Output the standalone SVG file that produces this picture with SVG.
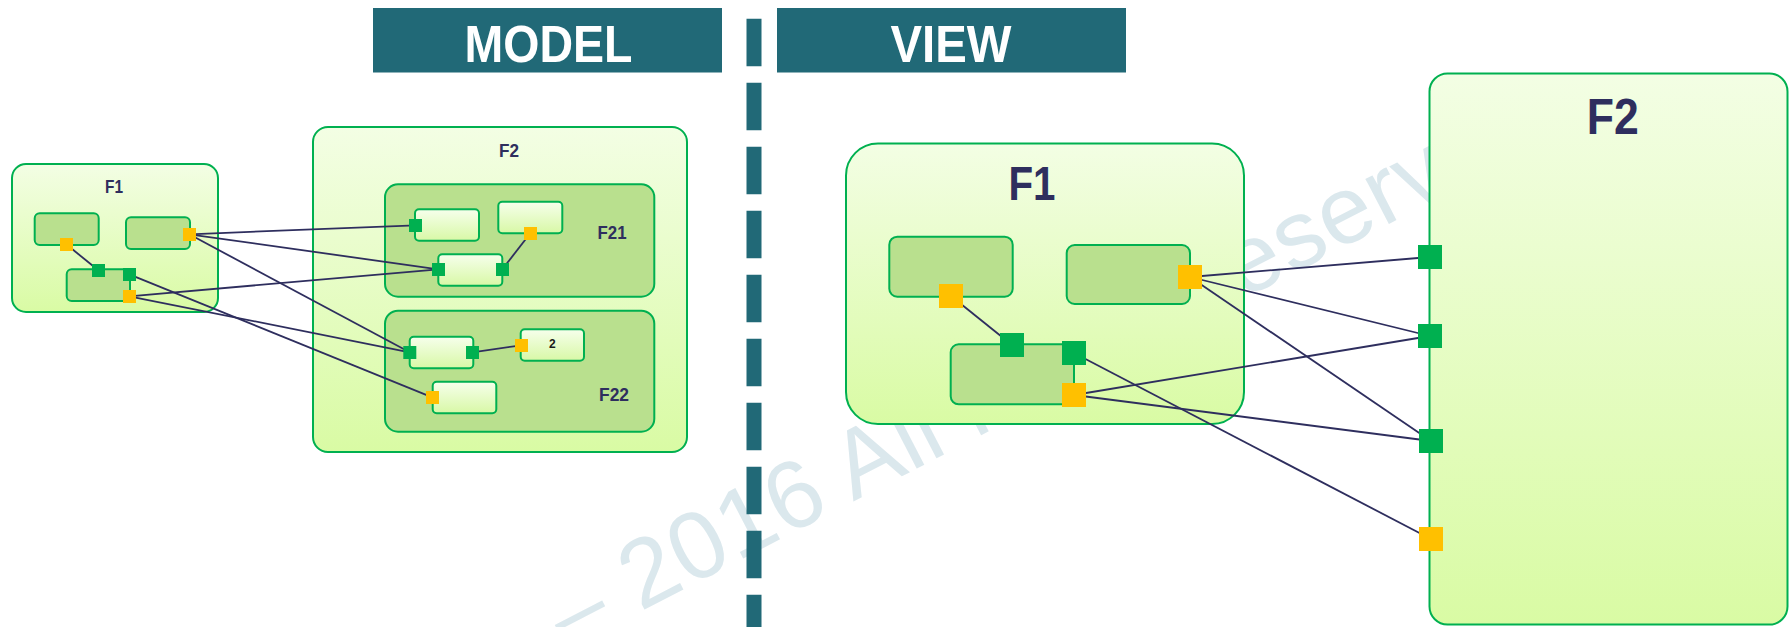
<svg xmlns="http://www.w3.org/2000/svg" width="1789" height="627" viewBox="0 0 1789 627">
<defs>
<linearGradient id="gOuter" x1="0" y1="0" x2="0" y2="1">
<stop offset="0" stop-color="#f3fee4"/>
<stop offset="1" stop-color="#d9fba4"/>
</linearGradient>
<linearGradient id="gSmall" x1="0" y1="0" x2="0" y2="1">
<stop offset="0" stop-color="#f6ffec"/>
<stop offset="1" stop-color="#d8f8a6"/>
</linearGradient>
<style>
.hdr{fill:#216977}
.hdrt{fill:#ffffff;font-family:"Liberation Sans",Arial,sans-serif;font-weight:bold;font-size:52px;text-anchor:middle}
.outer{fill:url(#gOuter);stroke:#00b050;stroke-width:2}
.mid{fill:#b9e08e;stroke:#00b050;stroke-width:2}
.small{fill:url(#gSmall);stroke:#00b050;stroke-width:2}
.ttl{fill:#2e2e5e;font-family:"Liberation Sans",Arial,sans-serif;font-weight:bold;text-anchor:middle}
.pg{fill:#00b050}
.py{fill:#ffc000}
.wire{stroke:#2e2e5e;stroke-width:1.8;fill:none}
.wm{fill:#dbe8ed;font-family:"Liberation Sans",Arial,sans-serif;font-size:96px;letter-spacing:1px}
</style>
</defs>
<rect width="1789" height="627" fill="#ffffff"/>
<text class="wm" transform="translate(567.4,649.6) rotate(-27.4)">– 2016 All rights reserved</text>
<g id="divider">
<line x1="754" y1="18.7" x2="754" y2="650" stroke="#216977" stroke-width="15" stroke-dasharray="47.5 16.5"/>
</g>
<g id="hdr-model">
<rect class="hdr" x="373" y="8" width="349" height="64.5"/>
<text class="hdrt" x="548.5" y="61.5" textLength="168" lengthAdjust="spacingAndGlyphs">MODEL</text>
</g>
<g id="hdr-view">
<rect class="hdr" x="777" y="8" width="349" height="64.5"/>
<text class="hdrt" x="951" y="61.5" textLength="121" lengthAdjust="spacingAndGlyphs">VIEW</text>
</g>
<g id="m-F1">
<rect class="outer" x="12" y="164" width="206" height="148" rx="14"/>
<text class="ttl" x="114" y="193" font-size="19" textLength="18" lengthAdjust="spacingAndGlyphs">F1</text>
<rect class="mid" x="34.7" y="213.3" width="64" height="31.7" rx="5"/>
<rect class="mid" x="126" y="217.3" width="64" height="31.7" rx="5"/>
<rect class="mid" x="66.7" y="269.3" width="63.3" height="31.7" rx="5"/>
</g>
<g id="m-F2">
<rect class="outer" x="313" y="127" width="374" height="325" rx="15"/>
<text class="ttl" x="509" y="157" font-size="18" textLength="20" lengthAdjust="spacingAndGlyphs">F2</text>
</g>
<g id="m-F21">
<rect class="mid" x="385" y="184.3" width="269.3" height="112.4" rx="13"/>
<text class="ttl" x="612" y="239.3" font-size="19" textLength="29" lengthAdjust="spacingAndGlyphs">F21</text>
<rect class="small" x="415" y="209.3" width="64" height="31.4" rx="4"/>
<rect class="small" x="498.3" y="201.7" width="64" height="31.6" rx="4"/>
<rect class="small" x="438.3" y="254.3" width="64" height="31.4" rx="4"/>
</g>
<g id="m-F22">
<rect class="mid" x="385" y="310.7" width="269.3" height="121" rx="13"/>
<text class="ttl" x="614" y="400.7" font-size="19" textLength="30" lengthAdjust="spacingAndGlyphs">F22</text>
<rect class="small" x="409.7" y="336.7" width="63.6" height="31.6" rx="4"/>
<rect class="small" x="520.7" y="329.3" width="63.3" height="31.4" rx="4"/>
<text x="552.3" y="347.8" font-family="Liberation Sans,Arial,sans-serif" font-weight="bold" font-size="12" text-anchor="middle" fill="#1a1a1a">2</text>
<rect class="small" x="432.7" y="381.7" width="63.6" height="31.6" rx="4"/>
</g>
<g id="v-F1">
<rect class="outer" x="846" y="143.5" width="398" height="280.5" rx="32"/>
<text class="ttl" x="1032" y="200" font-size="49" textLength="47" lengthAdjust="spacingAndGlyphs">F1</text>
<rect class="mid" x="889.3" y="236.7" width="123.4" height="60" rx="8"/>
<rect class="mid" x="1066.7" y="245" width="123.3" height="59" rx="8"/>
<rect class="mid" x="950.7" y="344.3" width="123.3" height="60" rx="8"/>
</g>
<g id="v-F2">
<rect class="outer" x="1429.5" y="73.5" width="358" height="551" rx="18"/>
<text class="ttl" x="1612.7" y="134" font-size="50" textLength="52" lengthAdjust="spacingAndGlyphs">F2</text>
</g>
<g id="connectors">
<line class="wire" x1="66.3" y1="244.3" x2="98.3" y2="270.3"/>
<line class="wire" x1="189.3" y1="234.3" x2="415.3" y2="225.3"/>
<line class="wire" x1="189.3" y1="234.3" x2="438.3" y2="269.3"/>
<line class="wire" x1="189.3" y1="234.3" x2="409.7" y2="352.3"/>
<line class="wire" x1="129.3" y1="296.3" x2="438.3" y2="269.3"/>
<line class="wire" x1="129.3" y1="296.3" x2="409.7" y2="352.3"/>
<line class="wire" x1="129.3" y1="274.3" x2="432.3" y2="397.3"/>
<line class="wire" x1="502.3" y1="269.3" x2="530.3" y2="233.3"/>
<line class="wire" x1="472.3" y1="352.3" x2="521.3" y2="345.3"/>
<line class="wire" x1="951" y1="296" x2="1012" y2="345"/>
<line class="wire" x1="1190" y1="277" x2="1430" y2="257"/>
<line class="wire" x1="1190" y1="277" x2="1430" y2="336"/>
<line class="wire" x1="1190" y1="277" x2="1431" y2="441"/>
<line class="wire" x1="1074" y1="395" x2="1430" y2="336"/>
<line class="wire" x1="1074" y1="395" x2="1431" y2="441"/>
<line class="wire" x1="1074" y1="353" x2="1431" y2="539"/>
</g>
<g id="ports">
<rect class="py" x="60" y="238" width="13" height="13"/>
<rect class="py" x="183" y="228" width="13" height="13"/>
<rect class="pg" x="92" y="264" width="13" height="13"/>
<rect class="pg" x="123" y="268" width="13" height="13"/>
<rect class="py" x="123" y="290" width="13" height="13"/>
<rect class="pg" x="409" y="219" width="13" height="13"/>
<rect class="py" x="524" y="227" width="13" height="13"/>
<rect class="pg" x="432" y="263" width="13" height="13"/>
<rect class="pg" x="496" y="263" width="13" height="13"/>
<rect class="pg" x="403.3" y="346" width="13" height="13"/>
<rect class="pg" x="466" y="346" width="13" height="13"/>
<rect class="py" x="515" y="339" width="13" height="13"/>
<rect class="py" x="426" y="391" width="13" height="13"/>
<rect class="py" x="939" y="284" width="24" height="24"/>
<rect class="py" x="1178" y="265" width="24" height="24"/>
<rect class="pg" x="1000" y="333" width="24" height="24"/>
<rect class="pg" x="1062" y="341" width="24" height="24"/>
<rect class="py" x="1062" y="383" width="24" height="24"/>
<rect class="pg" x="1418" y="245" width="24" height="24"/>
<rect class="pg" x="1418" y="324" width="24" height="24"/>
<rect class="pg" x="1419" y="429" width="24" height="24"/>
<rect class="py" x="1419" y="527" width="24" height="24"/>
</g>
</svg>
